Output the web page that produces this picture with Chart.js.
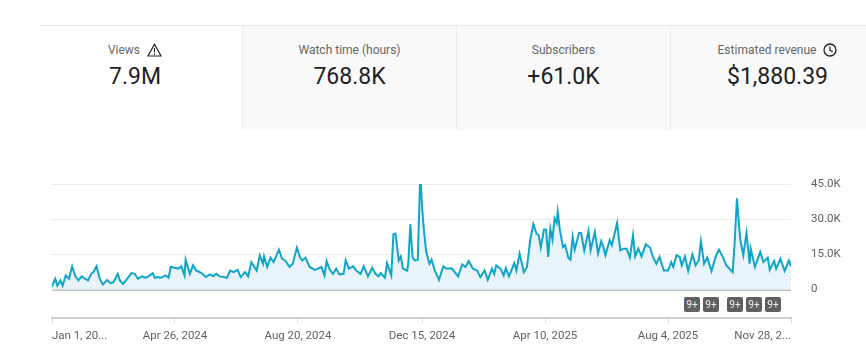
<!DOCTYPE html>
<html>
<head>
<meta charset="utf-8">
<script src="https://cdn.jsdelivr.net/npm/chart.js@4"></script>
<style>
  html, body { margin: 0; padding: 0; background: #fff; overflow: hidden; }
  body { width: 866px; height: 355px; position: relative; font-family: Roboto, sans-serif; }
  .tile { position: absolute; top: 25px; height: 105px; box-sizing: border-box; text-align: center;
          border-top: 1px solid #e8e8e8; background: #f9f9f9; border-left: 1px solid #ececec; }
  .tile.first { background: #fff; border-left: none; padding-right: 12px; }
  .tile .name { margin-top: 16px; height: 16px; line-height: 16px; font-size: 12px; color: #666; }
  .tile .name svg { vertical-align: -3px; margin-left: 7px; }
  .tile .num { margin-top: 4px; font-size: 23px; line-height: 30px; color: #1f1f1f; }
  .badge { position: absolute; top: 297px; width: 16px; height: 15px; line-height: 15px; border-radius: 2px;
           background: #606060; color: #eee; font-size: 10px; text-align: center; }
  canvas { position: absolute; left: 0; top: 170px; }
</style>
</head>
<body>
<div class="tile first" style="left:40px;width:202px">
  <div class="name">Views<svg width="15" height="14" viewBox="0 0 15 14"><path d="M7.5 1.2 L14 13 L1 13 Z" fill="none" stroke="#222" stroke-width="1.2"/><path d="M7.5 5 V9.5 M7.5 10.5 V12" stroke="#222" stroke-width="1.1"/></svg></div>
  <div class="num">7.9M</div>
</div>
<div class="tile" style="left:242px;width:214px">
  <div class="name">Watch time (hours)</div>
  <div class="num">768.8K</div>
</div>
<div class="tile" style="left:456px;width:214px">
  <div class="name">Subscribers</div>
  <div class="num">+61.0K</div>
</div>
<div class="tile" style="left:670px;width:214px">
  <div class="name">Estimated revenue<svg width="14" height="14" viewBox="0 0 14 14"><circle cx="7" cy="7" r="6" fill="none" stroke="#222" stroke-width="1.3"/><path d="M7 3.5 V7.3 L9.8 8.8" fill="none" stroke="#222" stroke-width="1.2"/></svg></div>
  <div class="num">$1,880.39</div>
</div>

<canvas id="viewsChart" width="866" height="185"></canvas>

<div class="badge" style="left:684px">9+</div>
<div class="badge" style="left:703px">9+</div>
<div class="badge" style="left:727px">9+</div>
<div class="badge" style="left:746px">9+</div>
<div class="badge" style="left:765px">9+</div>

<script>
var tickDays = [0, 116, 232, 349, 465, 581, 697];
var tickLabels = ["Jan 1, 20...", "Apr 26, 2024", "Aug 20, 2024", "Dec 15, 2024", "Apr 10, 2025", "Aug 4, 2025", "Nov 28, 2..."];
var yTicks = [0, 15000, 30000, 45000];
var yLabels = ["0", "15.0K", "30.0K", "45.0K"];

// days since Jan 1 2024
var days = [
  0,3,5,8,10,13,16,19,22,25,28,31,34,37,39,42,45,48,52,55,58,62,64,67,71,75,78,81,85,88,91,95,97,100,103,107,110,112,116,119,
  122,125,126,130,133,136,141,145,149,152,155,158,162,165,168,171,175,178,182,185,188,193,196,199,200,203,206,209,214,217,220,224,227,231,
  234,236,239,243,248,251,254,257,259,262,265,268,271,275,277,280,284,287,291,294,298,302,305,308,310,314,316,320,322,324,327,329,331,335,336,338,340,342,345,347,348,349,351,353,356,358,361,365,369,372,377,383,387,390,393,397,401,404,408,411,415,417,419,423,426,428,431,436,438,441,445,448,451,454,457,459,461,464,466,468,
  470,472,474,476,477,479,482,484,487,489,491,493,497,499,502,506,508,512,515,518,520,522,526,528,533,536,539,542,545,548,550,553,556,560,564,567,570,573,577,581,584,586,589,592,594,597,600,604,607,610,612,615,618,622,626,629,633,636,642,644,646,649,652,655,658,659,663,668,671,675,677,681,683,687,691,695,697
];
var views = [
  1300,4600,1700,3900,1600,6000,4600,9900,5600,3900,5600,4600,3900,6700,7400,9900,4600,2100,4100,2700,3100,6700,3900,2400,4600,7000,6700,4600,5600,5000,5600,7000,5000,5300,5000,6000,5000,9600,9300,8900,
  9900,6000,12700,6700,10300,8100,7000,5300,6400,5600,6700,5600,5300,5000,8100,7400,8400,5300,7400,5600,11700,8100,14600,11000,14100,9600,13600,11700,17000,13100,12400,9600,11000,17900,
  13600,12400,13600,9600,8400,8900,9600,6000,12100,8400,6700,8900,6400,6700,12400,8900,9900,8100,6700,9900,5600,9300,6700,5600,7000,5000,11300,6000,23600,23900,12400,14100,8900,8100,11000,27900,13900,12400,12700,44600,44600,35300,24000,16000,11000,12700,8100,4100,9900,8900,9100,5600,10700,9600,12100,8900,8100,5300,8100,4100,8900,6700,10300,8900,6000,9100,5600,11300,8100,15300,7400,9600,21000,27900,23900,23100,17900,25600,25600,13900,
  26000,21300,30300,28400,33100,25300,18100,18900,13600,12700,22400,17000,24100,24100,16700,25000,16700,24600,15300,20600,18100,14600,21000,18900,28400,16700,17400,17400,13600,23100,14100,17400,14100,19300,17900,13600,11000,13900,8100,8100,11700,9600,14600,13900,10300,14100,7900,15000,10300,12400,20600,11000,13600,7900,14100,17000,13600,10300,7400,21000,38900,21700,14600,24100,11000,17400,9600,16000,11700,13600,8400,12100,8900,13100,7900,12400,9900
];

var points = days.map(function (d, i) { return { x: d, y: views[i] }; });

new Chart(document.getElementById("viewsChart").getContext("2d"), {
  type: "line",
  data: {
    datasets: [{
      data: points,
      borderColor: "#0ea5c9",
      borderWidth: 2,
      backgroundColor: "#e8f4fa",
      fill: "origin",
      pointRadius: 0,
      tension: 0
    }]
  },
  options: {
    responsive: false,
    animation: false,
    layout: { padding: { left: 52, top: 14, right: 0, bottom: 0 } },
    plugins: { legend: { display: false }, tooltip: { enabled: false } },
    scales: {
      x: {
        type: "linear",
        min: 0,
        max: 697,
        afterBuildTicks: function (scale) {
          scale.ticks = tickDays.map(function (d) { return { value: d }; });
        },
        afterFit: function (scale) { scale.height = 37; },
        border: { color: "#cfcfcf", width: 2 },
        grid: { drawOnChartArea: false, drawTicks: true, tickLength: 5, color: "#dcdcdc" },
        ticks: {
          autoSkip: false,
          maxRotation: 0,
          align: "inner",
          padding: 6,
          color: "#606060",
          font: { family: "Roboto", size: 11.5 },
          callback: function (v) { return tickLabels[tickDays.indexOf(v)]; }
        }
      },
      y: {
        position: "right",
        min: -12150,
        max: 45000,
        afterBuildTicks: function (scale) {
          scale.ticks = yTicks.map(function (v) { return { value: v }; });
        },
        afterFit: function (scale) { scale.width = 75; },
        border: { display: false },
        grid: {
          drawTicks: true,
          tickLength: 20,
          tickColor: "rgba(0,0,0,0)",
          color: function (c) { return c.tick && c.tick.value === 0 ? "#c4c4c4" : "#ececec"; },
          lineWidth: function (c) { return c.tick && c.tick.value === 0 ? 2 : 1; }
        },
        ticks: {
          padding: 0,
          color: "#606060",
          font: { family: "Roboto", size: 11.5 },
          callback: function (v) { return yLabels[yTicks.indexOf(v)]; }
        }
      }
    }
  }
});
</script>
</body>
</html>
